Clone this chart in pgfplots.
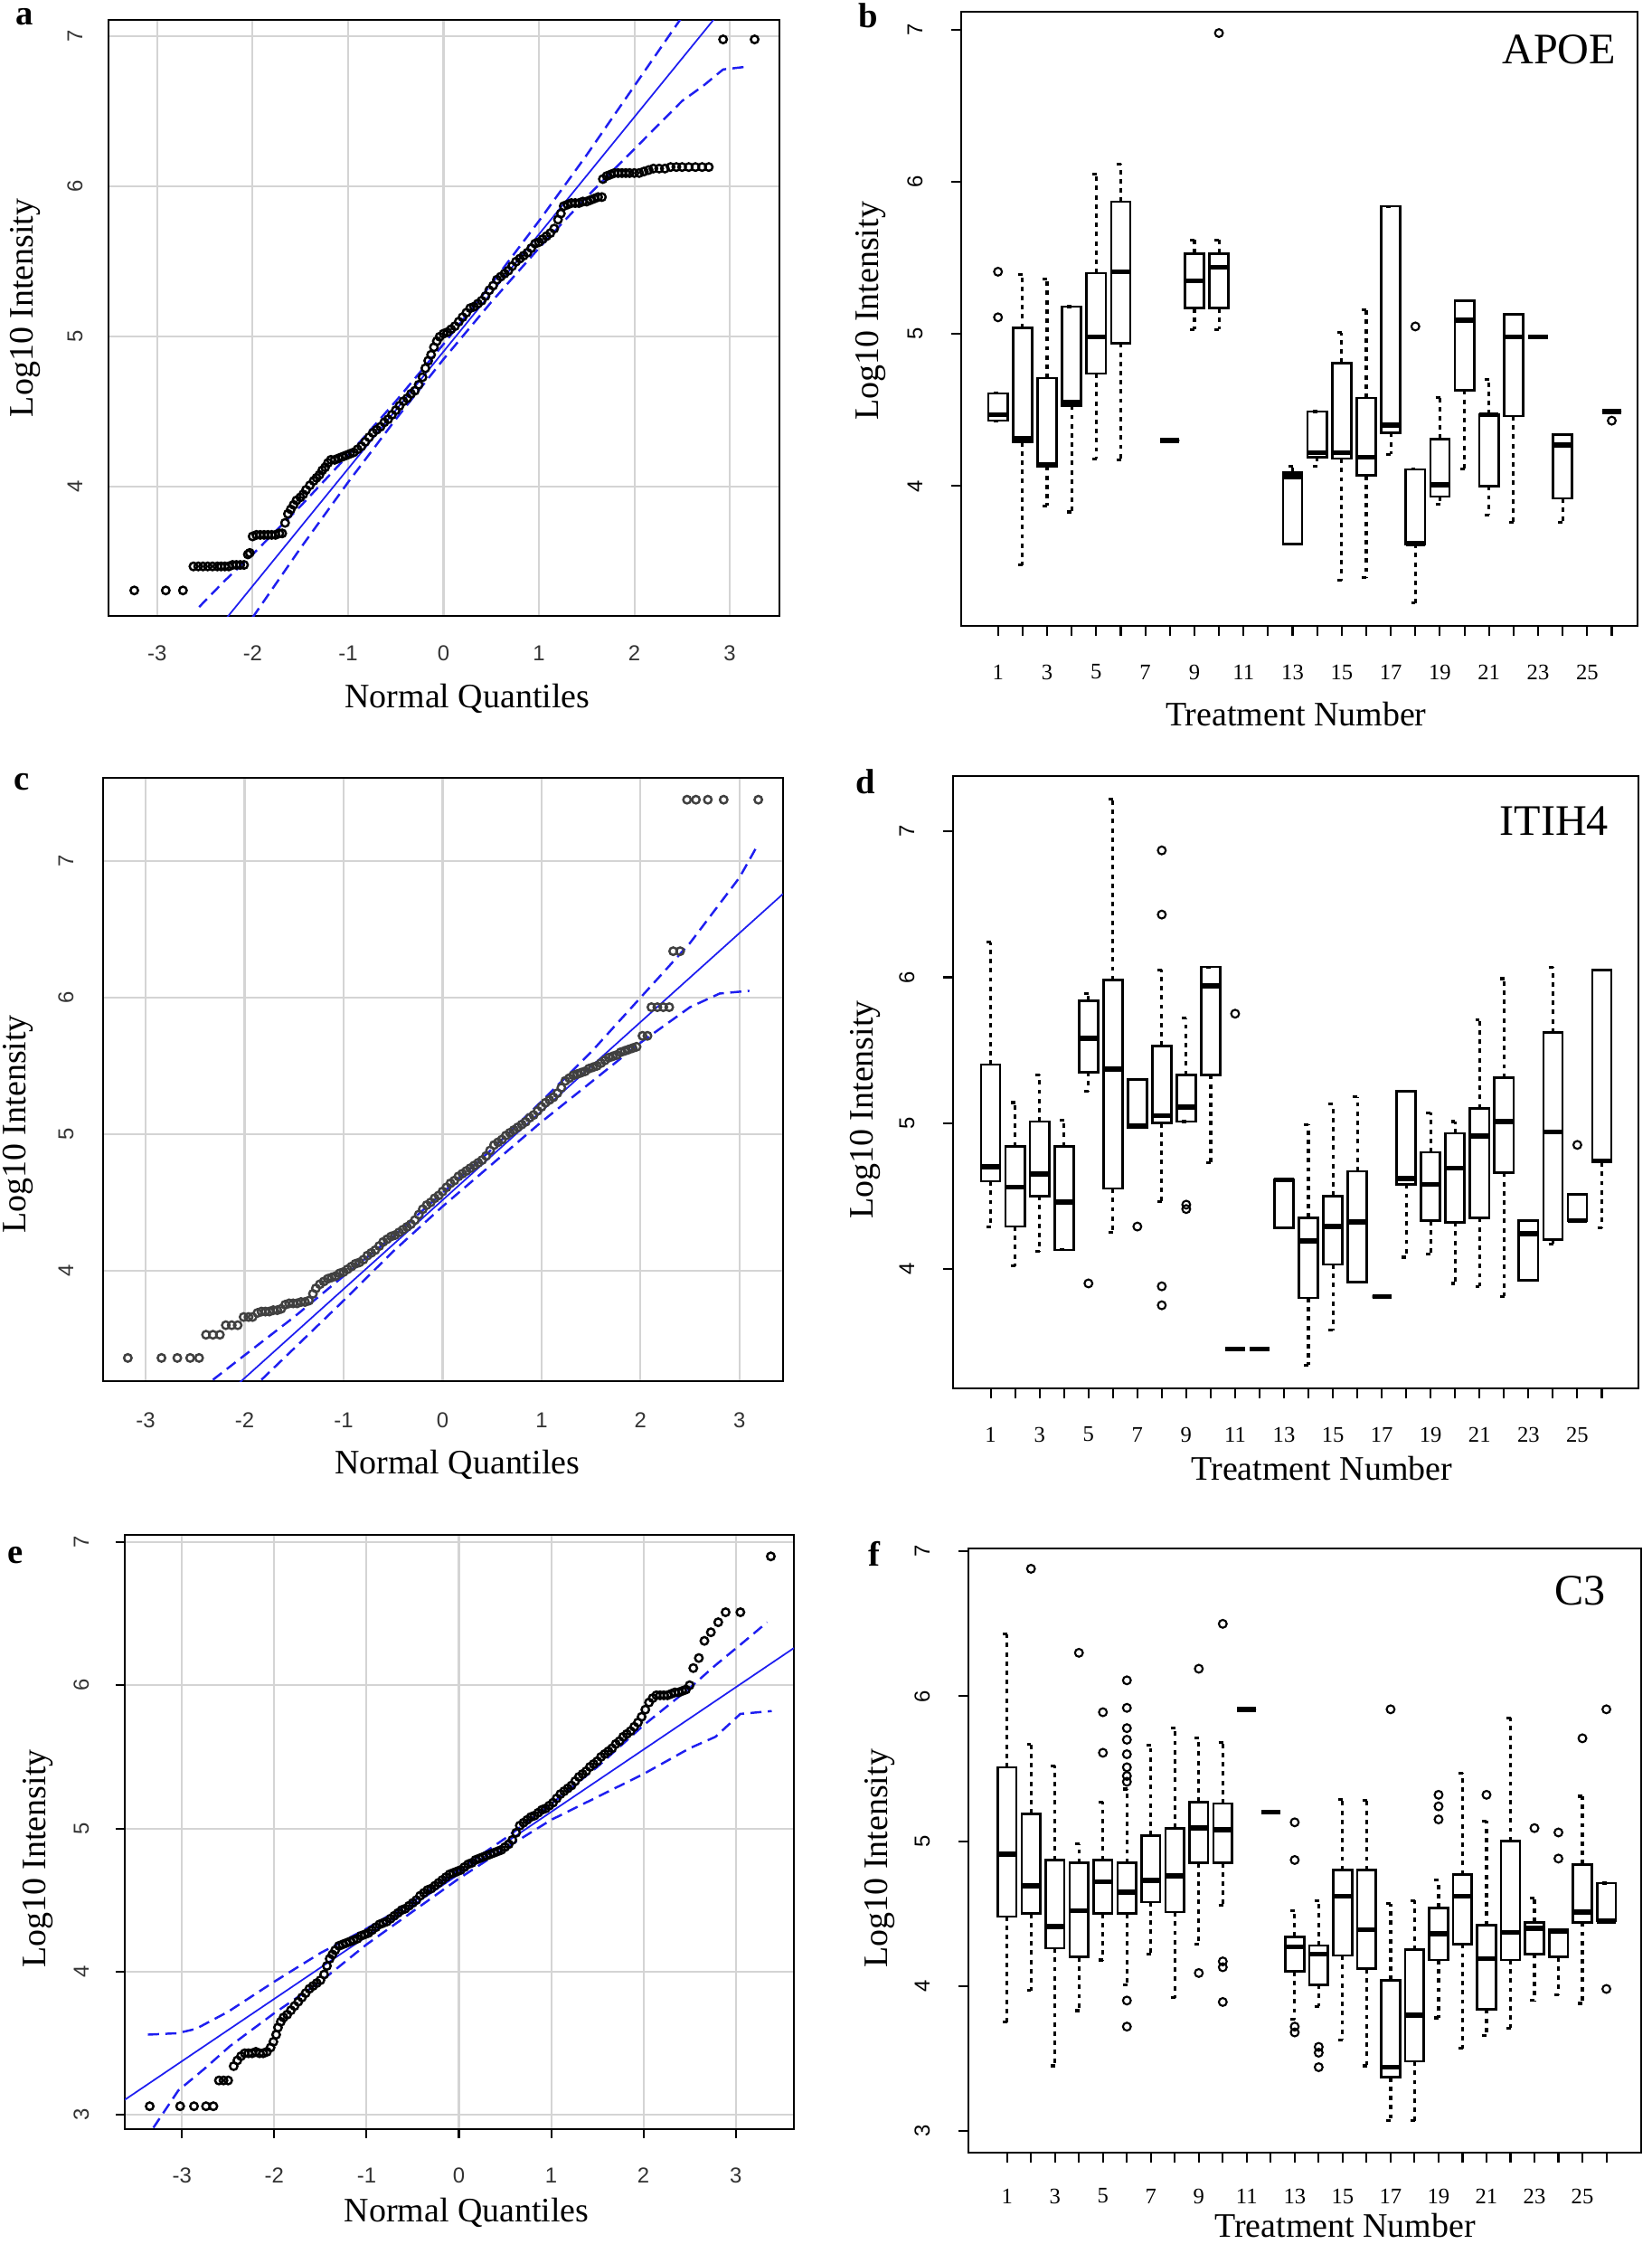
\documentclass[border=0pt]{standalone}
\usepackage{fontspec}
\setmainfont{Liberation Serif}
\setsansfont{Liberation Sans}
\usepackage{pgfplots}
\pgfplotsset{compat=1.18}
\usepgfplotslibrary{statistics}

\definecolor{rblue}{RGB}{30,30,240}
\definecolor{gridgray}{RGB}{212,212,212}
\newcommand{\fs}[1]{\fontsize{#1}{#1}\selectfont}

\pgfplotsset{
  panel/.style={scale only axis, anchor=north west, clip mode=individual,
    axis line style={line width=0.7pt},
    xlabel style={anchor=center, font=\fs{10.8}}, ylabel style={anchor=center, font=\fs{10.8}}},
  qq/.style={panel, grid=major, major grid style={gridgray, line width=0.6pt},
    xtick={-3,...,3}, xticklabels={-3,-2,-1,0,1,2,3}, major tick length=0pt,
    tick label style={font=\sffamily\fs{6.8}, text=black!80},
    xlabel={Normal Quantiles}, ylabel={Log10 Intensity}},
  bp/.style={panel, xmin=-0.55, xtick={1,...,26},
    xticklabels={1,,3,,5,,7,,9,,11,,13,,15,,17,,19,,21,,23,,25,},
    xtick pos=left, ytick pos=left, tick align=outside, major tick length=1.1mm,
    tick style={black, line width=0.6pt},
    ytick={3,4,5,6,7}, yticklabels={3,4,5,6,7},
    xticklabel style={font=\fs{7}, anchor=center},
    xlabel={Treatment Number}, ylabel={Log10 Intensity}},
  pts/.style={only marks, mark=o, mark size=1.2pt, mark options={line width=0.7pt}},
  refl/.style={rblue, line width=0.5pt, no marks},
  band/.style={rblue, line width=0.7pt, dash pattern=on 3.5pt off 2pt, no marks},
  rbox/.style={black, solid, line width=0.75pt, mark=o, mark size=1.25pt,
    mark options={solid, line width=0.6pt},
    boxplot/draw direction=y,
    boxplot/box extend=0.78, boxplot/whisker extend=0.35,
    boxplot/every median/.style={line width=1.6pt},
    boxplot/every whisker/.style={line width=0.9pt, dash pattern=on 1.4pt off 1.5pt}},
}
% draw position, lower whisker, lower quartile, median, upper quartile, upper whisker, outliers
\newcommand{\bx}[7]{\addplot[rbox, boxplot prepared={draw position=#1, lower whisker=#2,
  lower quartile=#3, median=#4, upper quartile=#5, upper whisker=#6}] coordinates {#7};}

\begin{document}
\begin{tikzpicture}
\useasboundingbox (0,0) rectangle (182.7mm,-248.1mm);

% ---------------- a ----------------
\begin{axis}[qq, at={(12.0mm,-2.2mm)}, width=74.2mm, height=65.9mm,
  xmin=-3.51, xmax=3.52, ymin=3.14, ymax=7.11, ytick={4,5,6,7}, yticklabels={4,5,6,7},
  xticklabel style={anchor=center, yshift=-4.1mm},
  yticklabel style={xshift=-3.7mm, rotate=90, anchor=center},
  xlabel style={at={(axis description cs:0.535,-0.138)}},
  ylabel style={at={(axis description cs:-0.124,0.517)}}]
\addplot[refl] coordinates {(-3.51,2.16) (3.52,7.65)};
\addplot[band] coordinates {(-2.56,3.20) (-2.3,3.37) (-2.0,3.55) (-1.5,3.87) (-1.0,4.21) (-0.5,4.57) (0,4.95) (0.5,5.35) (1.0,5.77) (1.5,6.21) (2.0,6.67) (2.5,7.13)};
\addplot[band] coordinates {(-2.0,3.13) (-1.5,3.59) (-1.0,4.03) (-0.5,4.45) (0,4.85) (0.5,5.23) (1.0,5.59) (1.5,5.93) (2.0,6.25) (2.5,6.57) (2.72,6.67) (2.93,6.78) (3.2,6.80)};
\addplot[pts, black] coordinates {
(-3.24,3.31)(-2.91,3.31)(-2.73,3.31)
(-2.62,3.47)(-2.57,3.47)(-2.52,3.47)(-2.47,3.47)(-2.42,3.47)(-2.37,3.47)(-2.33,3.47)(-2.29,3.47)(-2.25,3.47)(-2.21,3.48)(-2.17,3.48)(-2.13,3.48)(-2.09,3.48)
(-2.05,3.55)(-2.03,3.56)
(-2.00,3.67)(-1.96,3.68)(-1.92,3.68)(-1.88,3.68)(-1.84,3.68)(-1.80,3.68)(-1.76,3.68)(-1.72,3.69)(-1.69,3.69)
(-1.66,3.76)(-1.63,3.82)(-1.60,3.85)(-1.57,3.88)(-1.54,3.91)(-1.50,3.93)(-1.47,3.95)(-1.44,3.98)(-1.40,4.01)(-1.36,4.04)(-1.33,4.06)(-1.30,4.08)(-1.27,4.11)(-1.24,4.13)(-1.21,4.16)(-1.18,4.18)(-1.14,4.18)(-1.10,4.19)(-1.06,4.20)(-1.02,4.21)(-0.98,4.22)(-0.94,4.23)(-0.90,4.25)(-0.86,4.27)(-0.82,4.30)(-0.78,4.33)(-0.74,4.36)(-0.70,4.38)(-0.66,4.40)(-0.62,4.43)(-0.58,4.45)(-0.54,4.48)(-0.50,4.51)(-0.46,4.54)(-0.42,4.57)(-0.38,4.59)(-0.34,4.62)(-0.30,4.64)(-0.26,4.68)(-0.22,4.73)(-0.19,4.79)(-0.16,4.84)(-0.13,4.88)(-0.10,4.93)(-0.07,4.97)(-0.04,5.00)
(0.00,5.02)(0.04,5.03)(0.08,5.05)(0.12,5.07)(0.16,5.10)(0.20,5.13)(0.24,5.16)(0.28,5.19)(0.32,5.20)(0.36,5.22)(0.40,5.24)(0.44,5.27)(0.48,5.31)(0.52,5.34)(0.56,5.38)(0.60,5.40)(0.64,5.42)(0.68,5.44)(0.72,5.47)(0.76,5.50)(0.80,5.52)(0.84,5.54)(0.88,5.56)(0.92,5.59)(0.96,5.62)(1.00,5.63)(1.04,5.65)(1.08,5.67)(1.12,5.69)(1.16,5.72)(1.20,5.78)(1.23,5.82)(1.26,5.87)
(1.30,5.88)(1.34,5.89)(1.38,5.89)(1.42,5.89)(1.46,5.90)(1.50,5.90)(1.54,5.91)(1.58,5.92)(1.62,5.93)(1.66,5.93)
(1.67,6.05)(1.71,6.07)(1.75,6.08)(1.79,6.09)(1.83,6.09)(1.87,6.09)(1.91,6.09)(1.95,6.09)(2.00,6.09)(2.05,6.09)(2.10,6.10)(2.15,6.11)(2.20,6.12)(2.26,6.12)(2.32,6.12)(2.38,6.13)(2.44,6.13)(2.50,6.13)(2.57,6.13)(2.64,6.13)(2.71,6.13)(2.78,6.13)
(2.93,6.98)(3.26,6.98)};
\node[font=\bfseries\fs{11}] at (axis description cs:-0.125,1.005) {a};
\end{axis}

% ---------------- b ----------------
\begin{axis}[bp, at={(106.3mm,-1.3mm)}, width=74.8mm, height=67.9mm,
  xmin=-0.50, xmax=27.05, ymin=3.08, ymax=7.12,
  xticklabel style={yshift=-4.0mm},
  yticklabel style={xshift=-4.0mm, rotate=90, anchor=center, font=\sffamily\fs{6.8}},
  xlabel style={at={(axis description cs:0.495,-0.143)}},
  ylabel style={at={(axis description cs:-0.134,0.513)}}]
\bx{1}{4.43}{4.43}{4.47}{4.61}{4.61}{(0,5.41)(0,5.11)}
\bx{2}{3.48}{4.29}{4.31}{5.04}{5.39}{}
\bx{3}{3.87}{4.13}{4.14}{4.71}{5.36}{}
\bx{4}{3.83}{4.53}{4.55}{5.18}{5.18}{}
\bx{5}{4.18}{4.74}{4.98}{5.40}{6.05}{}
\bx{6}{4.17}{4.94}{5.41}{5.87}{6.12}{}
\bx{8}{4.30}{4.30}{4.30}{4.30}{4.30}{}
\bx{9}{5.03}{5.17}{5.35}{5.53}{5.62}{}
\bx{10}{5.03}{5.17}{5.44}{5.53}{5.62}{(0,6.98)}
\bx{13}{3.62}{3.62}{4.06}{4.09}{4.13}{}
\bx{14}{4.13}{4.19}{4.22}{4.49}{4.49}{}
\bx{15}{3.38}{4.18}{4.22}{4.81}{5.01}{}
\bx{16}{3.40}{4.07}{4.19}{4.58}{5.16}{}
\bx{17}{4.21}{4.35}{4.40}{5.84}{5.84}{}
\bx{18}{3.23}{3.62}{3.62}{4.11}{4.11}{(0,5.05)}
\bx{19}{3.88}{3.93}{4.01}{4.31}{4.58}{}
\bx{20}{4.11}{4.63}{5.09}{5.22}{5.22}{}
\bx{21}{3.81}{4.00}{4.47}{4.47}{4.70}{}
\bx{22}{3.76}{4.46}{4.98}{5.13}{5.13}{}
\bx{23}{4.98}{4.98}{4.98}{4.98}{4.98}{}
\bx{24}{3.76}{3.92}{4.27}{4.34}{4.34}{}
\bx{26}{4.49}{4.49}{4.49}{4.49}{4.49}{(0,4.43)}
\node[font=\bfseries\fs{11}] at (axis description cs:-0.138,0.993) {b};
\node[font=\fs{13.7}] at (axis description cs:0.884,0.938) {APOE};
\end{axis}

% ---------------- c ----------------
\begin{axis}[qq, at={(11.4mm,-86.0mm)}, width=75.2mm, height=66.7mm,
  xmin=-3.43, xmax=3.44, ymin=3.19, ymax=7.61, ytick={4,5,6,7}, yticklabels={4,5,6,7},
  xticklabel style={anchor=center, yshift=-4.3mm},
  yticklabel style={xshift=-4.1mm, rotate=90, anchor=center},
  xlabel style={at={(axis description cs:0.521,-0.139)}},
  ylabel style={at={(axis description cs:-0.125,0.426)}}]
\addplot[refl] coordinates {(-3.43,2.28) (3.44,6.76)};
\addplot[band] coordinates {(-2.32,3.20) (-2.0,3.38) (-1.5,3.66) (-1.0,3.96) (-0.5,4.25) (0,4.57) (0.5,4.89) (1.0,5.24) (1.5,5.60) (2.0,6.00) (2.5,6.40) (3.0,6.88) (3.17,7.10)};
\addplot[band] coordinates {(-1.83,3.20) (-1.5,3.43) (-1.0,3.78) (-0.5,4.14) (0,4.47) (0.5,4.78) (1.0,5.09) (1.5,5.38) (2.0,5.67) (2.5,5.93) (2.8,6.03) (3.1,6.05)};
\addplot[pts, black!75] coordinates {
(-3.18,3.36)(-2.84,3.36)(-2.68,3.36)(-2.55,3.36)(-2.46,3.36)
(-2.39,3.53)(-2.32,3.53)(-2.25,3.53)(-2.19,3.60)(-2.13,3.60)(-2.07,3.60)(-2.01,3.66)(-1.96,3.66)(-1.92,3.66)
(-1.87,3.69)(-1.83,3.70)(-1.79,3.70)(-1.75,3.70)(-1.71,3.71)(-1.67,3.71)(-1.63,3.72)
(-1.59,3.75)(-1.55,3.76)(-1.51,3.76)(-1.47,3.76)(-1.43,3.77)(-1.39,3.77)(-1.35,3.78)
(-1.31,3.83)(-1.28,3.87)(-1.24,3.90)(-1.20,3.92)(-1.16,3.94)(-1.12,3.95)(-1.08,3.96)(-1.04,3.98)(-1.00,3.99)(-0.96,4.01)(-0.92,4.03)(-0.88,4.05)(-0.84,4.06)(-0.80,4.08)(-0.76,4.11)(-0.72,4.13)(-0.68,4.15)(-0.64,4.18)(-0.60,4.21)(-0.56,4.23)(-0.52,4.25)(-0.48,4.26)(-0.44,4.28)(-0.40,4.30)(-0.36,4.32)(-0.32,4.34)(-0.28,4.37)(-0.24,4.41)(-0.20,4.45)(-0.16,4.48)(-0.12,4.50)(-0.08,4.53)(-0.04,4.55)
(0.00,4.58)(0.04,4.61)(0.08,4.64)(0.12,4.66)(0.16,4.69)(0.20,4.71)(0.24,4.73)(0.28,4.75)(0.32,4.77)(0.36,4.79)(0.40,4.81)(0.44,4.84)(0.48,4.88)(0.52,4.92)(0.56,4.94)(0.60,4.96)(0.64,4.99)(0.68,5.01)(0.72,5.03)(0.76,5.05)(0.80,5.07)(0.84,5.09)(0.88,5.12)(0.92,5.14)(0.96,5.17)(1.00,5.20)(1.04,5.23)(1.08,5.25)(1.12,5.27)(1.16,5.30)(1.20,5.34)(1.24,5.39)(1.28,5.41)(1.32,5.43)(1.36,5.44)(1.40,5.45)(1.44,5.46)(1.48,5.48)(1.52,5.49)(1.56,5.50)(1.60,5.52)(1.64,5.54)(1.68,5.56)(1.72,5.57)(1.76,5.58)(1.80,5.60)(1.84,5.61)(1.88,5.62)(1.92,5.63)(1.96,5.64)
(2.02,5.72)(2.07,5.72)(2.11,5.93)(2.17,5.93)(2.23,5.93)(2.29,5.93)(2.33,6.34)(2.40,6.34)
(2.47,7.45)(2.56,7.45)(2.68,7.45)(2.84,7.45)(3.19,7.45)};
\node[font=\bfseries\fs{11}] at (axis description cs:-0.120,0.993) {c};
\end{axis}

% ---------------- d ----------------
\begin{axis}[bp, at={(105.4mm,-85.8mm)}, width=75.8mm, height=67.7mm,
  xmin=-0.54, xmax=27.5, ymin=3.18, ymax=7.38,
  xticklabel style={yshift=-4.0mm},
  yticklabel style={xshift=-4.0mm, rotate=90, anchor=center, font=\sffamily\fs{6.8}},
  xlabel style={at={(axis description cs:0.538,-0.131)}},
  ylabel style={at={(axis description cs:-0.128,0.455)}}]
\bx{1}{4.29}{4.60}{4.70}{5.40}{6.24}{}
\bx{2}{4.02}{4.29}{4.56}{4.84}{5.14}{}
\bx{3}{4.12}{4.50}{4.65}{5.01}{5.33}{}
\bx{4}{4.13}{4.13}{4.46}{4.84}{5.02}{}
\bx{5}{5.22}{5.35}{5.58}{5.84}{5.89}{(0,3.90)}
\bx{6}{4.25}{4.55}{5.37}{5.98}{7.22}{}
\bx{7}{4.97}{4.97}{4.98}{5.30}{5.30}{(0,4.29)}
\bx{8}{4.46}{5.00}{5.05}{5.53}{6.05}{(0,6.87)(0,6.43)(0,3.88)(0,3.75)}
\bx{9}{5.01}{5.01}{5.11}{5.33}{5.72}{(0,4.44)(0,4.41)}
\bx{10}{4.73}{5.33}{5.94}{6.07}{6.07}{}
\bx{11}{3.45}{3.45}{3.45}{3.45}{3.45}{(0,5.75)}
\bx{12}{3.45}{3.45}{3.45}{3.45}{3.45}{}
\bx{13}{4.28}{4.28}{4.61}{4.61}{4.61}{}
\bx{14}{3.34}{3.80}{4.19}{4.35}{4.99}{}
\bx{15}{3.58}{4.03}{4.29}{4.50}{5.13}{}
\bx{16}{3.91}{3.91}{4.32}{4.67}{5.18}{}
\bx{17}{3.81}{3.81}{3.81}{3.81}{3.81}{}
\bx{18}{4.08}{4.58}{4.62}{5.22}{5.22}{}
\bx{19}{4.10}{4.33}{4.58}{4.80}{5.07}{}
\bx{20}{3.90}{4.32}{4.69}{4.93}{5.01}{}
\bx{21}{3.88}{4.35}{4.91}{5.10}{5.71}{}
\bx{22}{3.81}{4.66}{5.01}{5.31}{5.99}{}
\bx{23}{3.92}{3.92}{4.24}{4.33}{4.33}{}
\bx{24}{4.17}{4.20}{4.94}{5.62}{6.07}{}
\bx{25}{4.33}{4.33}{4.33}{4.51}{4.51}{(0,4.85)}
\bx{26}{4.28}{4.73}{4.74}{6.05}{6.05}{}
\node[font=\bfseries\fs{11}] at (axis description cs:-0.128,0.991) {d};
\node[font=\fs{13.7}] at (axis description cs:0.877,0.926) {ITIH4};
\end{axis}

% ---------------- e ----------------
\begin{axis}[qq, at={(13.8mm,-169.7mm)}, width=74.0mm, height=65.7mm,
  xmin=-3.62, xmax=3.63, ymin=2.90, ymax=7.05, ytick={3,4,5,6,7}, yticklabels={3,4,5,6,7},
  xtick pos=left, ytick pos=left, tick align=outside, major tick length=1mm,
  tick style={black, line width=0.6pt},
  xticklabel style={anchor=center, yshift=-4.1mm},
  yticklabel style={xshift=-3.8mm, rotate=90, anchor=center},
  xlabel style={at={(axis description cs:0.511,-0.140)}},
  ylabel style={at={(axis description cs:-0.130,0.455)}}]
\addplot[refl] coordinates {(-3.62,3.105) (3.63,6.26)};
\addplot[band] coordinates {(-3.37,3.56) (-3.05,3.57) (-2.85,3.60) (-2.5,3.72) (-2.0,3.93) (-1.5,4.13) (-1.0,4.30) (-0.5,4.49) (0,4.71) (0.5,4.93) (1.0,5.17) (1.5,5.43) (2.0,5.72) (2.5,5.98) (2.78,6.14) (3.1,6.31) (3.34,6.44)};
\addplot[band] coordinates {(-3.31,2.91) (-3.04,3.17) (-2.76,3.32) (-2.48,3.48) (-2.0,3.71) (-1.5,3.93) (-1.0,4.19) (-0.5,4.42) (0,4.65) (0.5,4.86) (1.0,5.06) (1.5,5.22) (2.0,5.38) (2.5,5.56) (2.78,5.64) (3.05,5.80) (3.39,5.82)};
\addplot[pts, black] coordinates {
(-3.35,3.06)(-3.02,3.06)(-2.87,3.06)(-2.74,3.06)(-2.66,3.06)
(-2.60,3.24)(-2.55,3.24)(-2.50,3.24)
(-2.44,3.34)(-2.40,3.38)(-2.36,3.41)(-2.32,3.43)(-2.28,3.43)(-2.24,3.43)(-2.20,3.44)(-2.16,3.43)(-2.12,3.43)(-2.08,3.44)(-2.04,3.47)(-2.01,3.51)(-1.98,3.56)(-1.96,3.61)(-1.93,3.65)(-1.90,3.68)(-1.86,3.70)(-1.82,3.73)(-1.78,3.76)(-1.74,3.79)(-1.70,3.82)(-1.66,3.85)(-1.62,3.88)(-1.58,3.90)(-1.54,3.92)(-1.50,3.94)(-1.46,3.98)(-1.43,4.04)(-1.40,4.09)(-1.37,4.12)(-1.34,4.15)(-1.30,4.18)(-1.26,4.19)(-1.22,4.20)(-1.18,4.21)(-1.14,4.22)(-1.10,4.23)(-1.06,4.25)(-1.02,4.26)(-0.98,4.27)(-0.94,4.29)(-0.90,4.31)(-0.86,4.33)(-0.82,4.34)(-0.78,4.35)(-0.74,4.37)(-0.70,4.39)(-0.66,4.41)(-0.62,4.43)(-0.58,4.44)(-0.54,4.46)(-0.50,4.48)(-0.46,4.50)(-0.42,4.53)(-0.38,4.55)(-0.34,4.57)(-0.30,4.58)(-0.26,4.60)(-0.22,4.62)(-0.18,4.64)(-0.14,4.66)(-0.10,4.68)(-0.06,4.69)(-0.02,4.70)
(0.02,4.71)(0.06,4.73)(0.10,4.75)(0.14,4.76)(0.18,4.78)(0.22,4.79)(0.26,4.80)(0.30,4.81)(0.34,4.82)(0.38,4.83)(0.42,4.84)(0.46,4.85)(0.50,4.87)(0.54,4.89)(0.58,4.92)(0.62,4.97)(0.66,5.02)(0.70,5.04)(0.74,5.06)(0.78,5.08)(0.82,5.09)(0.86,5.11)(0.90,5.13)(0.94,5.14)(0.98,5.16)(1.02,5.18)(1.06,5.21)(1.10,5.24)(1.14,5.26)(1.18,5.28)(1.22,5.30)(1.26,5.33)(1.30,5.36)(1.34,5.38)(1.38,5.40)(1.42,5.43)(1.46,5.45)(1.50,5.47)(1.54,5.50)(1.58,5.52)(1.62,5.54)(1.66,5.56)(1.70,5.59)(1.74,5.61)(1.78,5.64)(1.82,5.66)(1.86,5.68)(1.90,5.71)(1.94,5.74)(1.98,5.78)(2.02,5.83)(2.06,5.88)(2.10,5.91)(2.14,5.93)(2.18,5.93)(2.22,5.93)(2.26,5.93)(2.30,5.94)(2.34,5.95)(2.38,5.95)(2.42,5.96)(2.46,5.97)(2.50,6.00)
(2.54,6.12)(2.60,6.19)(2.66,6.31)(2.73,6.37)(2.81,6.44)(2.89,6.51)(3.05,6.51)(3.38,6.90)};
\node[font=\bfseries\fs{11}] at (axis description cs:-0.164,0.966) {e};
\end{axis}

% ---------------- f ----------------
\begin{axis}[bp, at={(107.1mm,-171.2mm)}, width=74.4mm, height=66.8mm,
  xmin=-0.61, xmax=27.45, ymin=2.85, ymax=7.02,
  xticklabel style={yshift=-3.7mm},
  yticklabel style={xshift=-4.0mm, rotate=90, anchor=center, font=\sffamily\fs{6.8}},
  xlabel style={at={(axis description cs:0.560,-0.121)}},
  ylabel style={at={(axis description cs:-0.132,0.487)}}]
\bx{1}{3.75}{4.48}{4.91}{5.51}{6.43}{}
\bx{2}{3.97}{4.50}{4.69}{5.19}{5.67}{(0,6.88)}
\bx{3}{3.45}{4.26}{4.41}{4.87}{5.52}{}
\bx{4}{3.83}{4.20}{4.52}{4.85}{4.98}{(0,6.30)}
\bx{5}{4.18}{4.50}{4.72}{4.87}{5.27}{(0,5.89)(0,5.61)}
\bx{6}{4.01}{4.50}{4.65}{4.85}{5.36}{(0,6.11)(0,5.92)(0,5.78)(0,5.70)(0,5.60)(0,5.51)(0,5.45)(0,5.41)(0,3.90)(0,3.72)}
\bx{7}{4.22}{4.58}{4.73}{5.04}{5.66}{}
\bx{8}{3.92}{4.51}{4.76}{5.09}{5.78}{}
\bx{9}{4.29}{4.85}{5.09}{5.27}{5.71}{(0,6.19)(0,4.09)}
\bx{10}{4.56}{4.85}{5.08}{5.26}{5.68}{(0,6.50)(0,4.17)(0,4.13)(0,3.89)}
\bx{11}{5.91}{5.91}{5.91}{5.91}{5.91}{}
\bx{12}{5.20}{5.20}{5.20}{5.20}{5.20}{}
\bx{13}{3.77}{4.10}{4.27}{4.34}{4.52}{(0,5.13)(0,4.87)(0,3.72)(0,3.68)}
\bx{14}{3.86}{4.01}{4.22}{4.28}{4.59}{(0,3.58)(0,3.54)(0,3.44)}
\bx{15}{3.63}{4.21}{4.62}{4.80}{5.29}{}
\bx{16}{3.45}{4.12}{4.39}{4.80}{5.28}{}
\bx{17}{3.07}{3.37}{3.44}{4.04}{4.57}{(0,5.91)}
\bx{18}{3.07}{3.48}{3.80}{4.25}{4.59}{}
\bx{19}{3.78}{4.18}{4.36}{4.54}{4.73}{(0,5.32)(0,5.24)(0,5.15)}
\bx{20}{3.57}{4.29}{4.62}{4.77}{5.47}{}
\bx{21}{3.66}{3.84}{4.19}{4.42}{5.14}{(0,5.32)}
\bx{22}{3.71}{4.18}{4.37}{5.00}{5.85}{}
\bx{23}{3.90}{4.22}{4.40}{4.44}{4.61}{(0,5.09)}
\bx{24}{3.94}{4.20}{4.38}{4.39}{4.39}{(0,5.06)(0,4.88)}
\bx{25}{3.88}{4.44}{4.51}{4.84}{5.31}{(0,5.71)}
\bx{26}{4.45}{4.45}{4.45}{4.71}{4.71}{(0,5.91)(0,3.98)}
\node[font=\bfseries\fs{11}] at (axis description cs:-0.140,0.991) {f};
\node[font=\fs{13.7}] at (axis description cs:0.909,0.930) {C3};
\end{axis}
\end{tikzpicture}
\end{document}
